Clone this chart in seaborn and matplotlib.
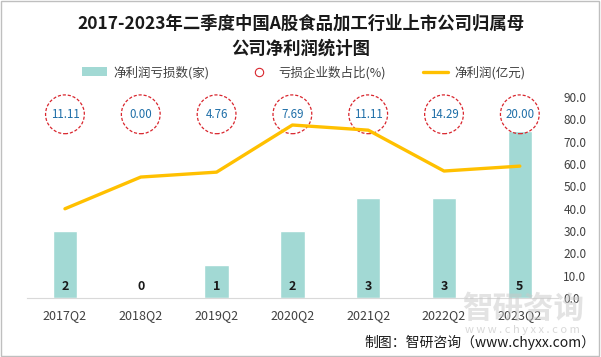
import matplotlib
matplotlib.use("Agg")
import matplotlib.pyplot as plt
import seaborn as sns
from matplotlib.lines import Line2D
from matplotlib.patches import Patch

# data
quarters = ['2017Q2', '2018Q2', '2019Q2', '2020Q2', '2021Q2', '2022Q2', '2023Q2']
loss_counts = [2, 0, 1, 2, 3, 3, 5]
loss_ratio = [11.11, 0.00, 4.76, 7.69, 11.11, 14.29, 20.00]
net_profit = [40.0, 54.2, 56.4, 77.5, 75.2, 56.9, 59.1]

BAR_COLOR = '#A2D9D4'
LINE_COLOR = '#FFC000'
CIRCLE_COLOR = '#D9262E'
TEXT_COLOR = '#404040'

sns.set_style('white')
plt.rcParams['font.family'] = ['Noto Sans CJK SC', 'DejaVu Sans']

fig = plt.figure(figsize=(6.01, 3.57), dpi=100)
ax = fig.add_axes([0.045, 0.165, 0.883, 0.563])
ax2 = ax.twinx()

# bars on a hidden count axis
sns.barplot(x=quarters, y=loss_counts, color=BAR_COLOR, width=0.32,
            saturation=1, ax=ax)
ax.set_ylim(0, 6)
ax.set_yticks([])
for i, c in enumerate(loss_counts):
    ax.text(i, 0.36, str(c), ha='center', va='center', fontsize=9,
            fontweight='bold', color='#1a1a1a')

# net profit line on the right axis
sns.lineplot(x=quarters, y=net_profit, color=LINE_COLOR, linewidth=2.4,
             sort=False, ax=ax2, zorder=6)
ax2.set_ylim(0, 90)
ax2.set_yticks(range(0, 91, 10))
ax2.set_yticklabels([f'{v:.1f}' for v in range(0, 91, 10)])

# ratio circles along the top
circle_y = [82.3] * len(quarters)
sns.scatterplot(x=quarters, y=circle_y, s=780, facecolor='none',
                edgecolor=CIRCLE_COLOR, linewidth=0.9, linestyle=(0, (2.5, 1.5)),
                ax=ax2, zorder=4, clip_on=False)
for i, r in enumerate(loss_ratio):
    ax2.text(i, 82.3, f'{r:.2f}', ha='center', va='center', fontsize=8.3,
             color='#1F6FA8', zorder=7)

ax.set_xlim(-0.5, 6.5)
for a in (ax, ax2):
    for s in ('top', 'left', 'right', 'bottom'):
        a.spines[s].set_visible(False)
ax.spines['bottom'].set_visible(True)
ax.spines['bottom'].set_color('#D9D9D9')
ax.tick_params(axis='x', length=0, labelsize=9, labelcolor=TEXT_COLOR, pad=8)
ax2.tick_params(axis='y', length=0, labelsize=8.5, labelcolor=TEXT_COLOR, pad=4)
ax.set_xlabel('')
ax.set_ylabel('')
ax2.set_ylabel('')

# title
fig.text(0.5, 0.935, '2017-2023年二季度中国A股食品加工行业上市公司归属母',
         ha='center', va='center', fontsize=12.5, fontweight='bold', color='#1a1a1a')
fig.text(0.5, 0.865, '公司净利润统计图',
         ha='center', va='center', fontsize=12.5, fontweight='bold', color='#1a1a1a')

# legend
handles = [
    Patch(facecolor=BAR_COLOR, edgecolor='none'),
    Line2D([], [], marker='o', linestyle='none', markersize=6,
           markerfacecolor='white', markeredgecolor=CIRCLE_COLOR,
           markeredgewidth=0.8),
    Line2D([], [], color=LINE_COLOR, linewidth=2.4),
]
labels = ['净利润亏损数(家)', '亏损企业数占比(%)', '净利润(亿元)']
fig.legend(handles, labels, loc='center', bbox_to_anchor=(0.505, 0.797), ncol=3,
           frameon=False, fontsize=9, handlelength=2.0, columnspacing=3.0,
           handletextpad=0.5, labelcolor=TEXT_COLOR)

# watermark and source
fig.text(0.87, 0.135, '智研咨询', ha='center', va='center', fontsize=22,
         color='#C8C8C8', alpha=0.5, fontweight='bold')
fig.text(0.87, 0.075, 'w w w . c h y x x . c o m', ha='center', va='center',
         fontsize=8, color='#C8C8C8', alpha=0.7)
fig.text(0.99, 0.04, '制图：智研咨询（www.chyxx.com）', ha='right', va='center',
         fontsize=10, color='#1a1a1a')

# outer border
fig.patches.append(plt.Rectangle((0.002, 0.003), 0.995, 0.994, transform=fig.transFigure,
                                 fill=False, edgecolor='#BFBFBF', linewidth=1.0))

fig.savefig('out.png', dpi=100)
